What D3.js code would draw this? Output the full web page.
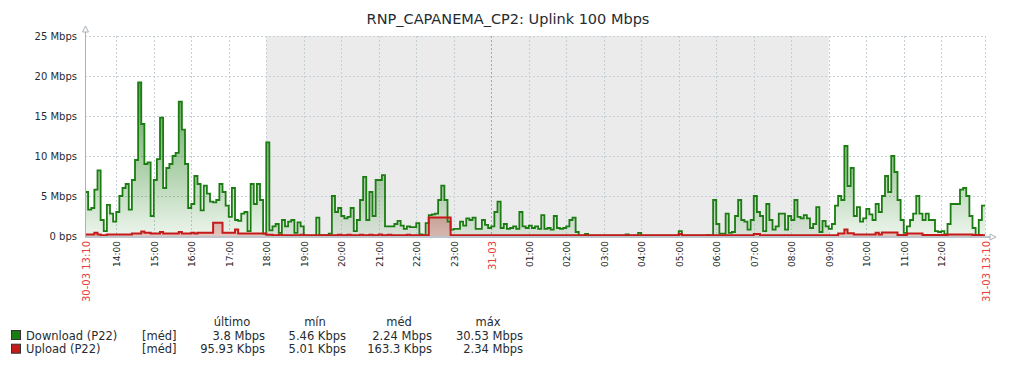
<!DOCTYPE html>
<html>
<head>
<meta charset="utf-8">
<script src="https://cdn.jsdelivr.net/npm/d3@7"></script>
<style>
  body { margin: 0; background: #fff; }
  svg { display: block; font-family: "DejaVu Sans", sans-serif; }
</style>
</head>
<body>
<svg id="graph"></svg>
<script>
// ---- data (Mbps, one value every 5 minutes, 30-03 13:10 -> 31-03 13:10)
const graphTitle = "RNP_CAPANEMA_CP2: Uplink 100 Mbps";
const startTime = new Date(Date.UTC(2024, 2, 30, 13, 10));
const endTime = new Date(Date.UTC(2024, 2, 31, 13, 10));
const stepMinutes = 5;
const offHoursStart = new Date(Date.UTC(2024, 2, 30, 18, 0));
const offHoursEnd = new Date(Date.UTC(2024, 2, 31, 9, 0));
const yTicks = [0, 5, 10, 15, 20, 25];

const download = [
  5.5, 3.3, 3.5, 5.8, 8.2, 2.0, 0.6, 3.9, 2.8, 1.8, 3.0, 5.0,
  6.0, 6.5, 3.3, 7.0, 9.5, 19.2, 14.0, 9.0, 9.2, 2.5, 7.0, 9.6,
  14.8, 6.0, 8.5, 9.0, 10.0, 10.4, 16.8, 13.3, 9.0, 3.5, 4.0, 7.5,
  6.5, 3.2, 6.3, 5.3, 4.3, 4.2, 4.5, 6.5, 5.5, 3.8, 2.4, 6.0,
  2.0, 1.9, 2.8, 3.0, 0.6, 6.5, 4.0, 6.5, 4.5, 0.3, 11.7, 0.7,
  1.2, 1.5, 0.4, 2.0, 1.2, 1.8, 2.0, 0.4, 1.7, 1.2, 0.05, 0.05,
  0.05, 0.05, 2.3, 0.1, 0.1, 0.1, 0.3, 5.0, 3.0, 3.5, 2.5, 2.2,
  2.4, 3.5, 0.6, 2.0, 4.5, 7.4, 2.0, 5.5, 2.5, 7.0, 7.0, 7.6,
  1.2, 1.2, 1.2, 1.5, 1.9, 1.3, 0.9, 1.2, 1.1, 1.1, 1.6, 0.2,
  0.1, 1.6, 2.6, 2.7, 2.8, 4.5, 6.3, 4.5, 1.8, 0.8, 0.9, 0.9,
  1.8, 1.3, 2.2, 2.0, 2.3, 0.9, 0.9, 2.0, 1.4, 1.0, 1.2, 3.0,
  4.3, 1.0, 1.5, 0.9, 1.0, 1.2, 0.9, 3.0, 1.2, 1.0, 1.3, 1.0,
  1.2, 0.9, 2.6, 0.9, 1.0, 0.8, 2.5, 1.0, 0.9, 1.0, 1.2, 2.0,
  2.3, 0.5, 0.05, 0.05, 0.25, 0.05, 0.05, 0.05, 0.05, 0.05, 0.05, 0.05,
  0.05, 0.05, 0.05, 0.05, 0.05, 0.2, 0.05, 0.05, 0.05, 0.4, 0.05, 0.05,
  0.05, 0.05, 0.05, 0.05, 0.05, 0.05, 0.05, 0.05, 0.05, 0.05, 0.6, 0.05,
  0.05, 0.05, 0.05, 0.05, 0.05, 0.05, 0.05, 0.1, 0.05, 4.5, 1.5, 0.3,
  0.3, 2.8, 0.4, 0.5, 2.5, 4.5, 2.0, 1.8, 0.8, 2.0, 5.0, 3.0,
  2.5, 0.6, 4.0, 2.0, 0.8, 1.2, 2.8, 2.8, 0.8, 2.5, 2.0, 4.5,
  2.4, 2.2, 2.6, 2.2, 1.0, 1.5, 3.6, 0.5, 1.9, 1.2, 0.9, 1.5,
  3.8, 5.0, 4.5, 11.25, 6.25, 8.5, 2.5, 3.6, 1.8, 2.2, 3.4, 2.7,
  2.0, 4.0, 3.0, 5.0, 7.5, 5.5, 10.0, 8.0, 4.5, 2.0, 0.4, 1.2,
  2.0, 2.8, 5.0, 2.8, 2.0, 2.8, 2.0, 2.0, 0.6, 0.5, 0.6, 0.2,
  1.5, 4.0, 4.0, 4.0, 5.8, 6.0, 5.0, 2.5, 1.0, 0.1, 2.0, 3.8
];

const upload = [
  0.2, 0.2, 0.2, 0.4, 0.2, 0.1, 0.1, 0.2, 0.2, 0.2, 0.2, 0.2,
  0.2, 0.2, 0.2, 0.3, 0.3, 0.3, 0.55, 0.4, 0.4, 0.3, 0.3, 0.3,
  0.5, 0.3, 0.3, 0.3, 0.3, 0.3, 0.5, 0.3, 0.3, 0.3, 0.4, 0.3,
  0.4, 0.4, 0.4, 0.4, 0.4, 1.65, 1.65, 1.65, 0.4, 0.4, 0.4, 0.4,
  0.8, 0.3, 0.3, 0.3, 0.3, 0.3, 0.3, 0.3, 0.3, 0.3, 0.15, 0.15,
  0.1, 0.1, 0.15, 0.1, 0.1, 0.1, 0.1, 0.1, 0.1, 0.15, 0.1, 0.1,
  0.1, 0.1, 0.1, 0.1, 0.1, 0.1, 0.1, 0.1, 0.1, 0.15, 0.1, 0.1,
  0.15, 0.1, 0.1, 0.1, 0.15, 0.1, 0.1, 0.15, 0.1, 0.1, 0.2, 0.1,
  0.1, 0.15, 0.1, 0.1, 0.1, 0.1, 0.1, 0.15, 0.1, 0.1, 0.1, 0.1,
  0.1, 0.1, 2.3, 2.3, 2.3, 2.3, 2.3, 2.3, 2.3, 0.1, 0.1, 0.1,
  0.1, 0.1, 0.1, 0.1, 0.1, 0.1, 0.1, 0.1, 0.1, 0.1, 0.1, 0.1,
  0.1, 0.1, 0.1, 0.1, 0.1, 0.1, 0.1, 0.1, 0.1, 0.1, 0.1, 0.1,
  0.1, 0.1, 0.1, 0.1, 0.1, 0.1, 0.1, 0.1, 0.1, 0.1, 0.1, 0.1,
  0.1, 0.1, 0.1, 0.1, 0.1, 0.1, 0.1, 0.1, 0.1, 0.1, 0.1, 0.1,
  0.1, 0.1, 0.1, 0.1, 0.1, 0.1, 0.1, 0.1, 0.1, 0.1, 0.1, 0.1,
  0.1, 0.1, 0.1, 0.1, 0.1, 0.1, 0.1, 0.1, 0.1, 0.1, 0.25, 0.1,
  0.1, 0.1, 0.1, 0.1, 0.1, 0.1, 0.1, 0.1, 0.1, 0.1, 0.1, 0.1,
  0.1, 0.1, 0.1, 0.1, 0.1, 0.1, 0.1, 0.1, 0.1, 0.1, 0.25, 0.25,
  0.1, 0.1, 0.1, 0.1, 0.1, 0.1, 0.1, 0.1, 0.1, 0.1, 0.1, 0.1,
  0.1, 0.1, 0.1, 0.1, 0.1, 0.1, 0.1, 0.1, 0.1, 0.1, 0.1, 0.1,
  0.1, 0.3, 0.3, 0.8, 0.35, 0.35, 0.2, 0.2, 0.2, 0.2, 0.2, 0.2,
  0.2, 0.4, 0.2, 0.45, 0.45, 0.45, 0.45, 0.45, 0.12, 0.12, 0.12, 0.3,
  0.3, 0.3, 0.3, 0.3, 0.12, 0.12, 0.12, 0.12, 0.12, 0.12, 0.12, 0.12,
  0.2, 0.2, 0.2, 0.2, 0.2, 0.2, 0.2, 0.2, 0.12, 0.12, 0.12, 0.1
];

const seriesNames = ["Download (P22)", "Upload (P22)"];
const seriesColors = ["#1a7c11", "#c41a1a"];
const seriesFunc = ["[méd]", "[méd]"];
const statHeaders = ["último", "mín", "méd", "máx"];
const downloadStats = ["3.8 Mbps", "5.46 Kbps", "2.24 Mbps", "30.53 Mbps"];
const uploadStats = ["95.93 Kbps", "5.01 Kbps", "163.3 Kbps", "2.34 Mbps"];

class TrafficGraph {

  constructor(_config) {
    this.config = {
      parentElement: _config.parentElement,
      containerWidth: _config.containerWidth || 1016,
      containerHeight: _config.containerHeight || 368,
      margin: { top: 36, left: 85, right: 31, bottom: 132 }
    }
    this.initVis();
  }

  initVis() {
    let vis = this;

    vis.width = vis.config.containerWidth - vis.config.margin.left - vis.config.margin.right;
    vis.height = vis.config.containerHeight - vis.config.margin.top - vis.config.margin.bottom;

    vis.svg = d3.select(vis.config.parentElement)
        .attr('width', vis.config.containerWidth)
        .attr('height', vis.config.containerHeight);

    vis.svg.append('text')
        .attr('x', 508)
        .attr('y', 24)
        .attr('text-anchor', 'middle')
        .attr('font-size', 14.5)
        .attr('fill', '#1f2c33')
        .text(graphTitle);

    vis.xScale = d3.scaleUtc()
        .domain([startTime, endTime])
        .range([0, vis.width]);

    vis.yScale = d3.scaleLinear()
        .domain([0, d3.max(yTicks)])
        .range([vis.height, 0]);

    vis.chart = vis.svg.append('g')
        .attr('transform', `translate(${vis.config.margin.left},${vis.config.margin.top})`);

    // gradients for the filled areas
    let defs = vis.svg.append('defs');
    [['gradDown', seriesColors[0], 0.9, 0.08], ['gradUp', seriesColors[1], 0.9, 0.22]].forEach(g => {
      let lg = defs.append('linearGradient')
          .attr('id', g[0])
          .attr('gradientUnits', 'userSpaceOnUse')
          .attr('x1', 0).attr('x2', 0)
          .attr('y1', 0).attr('y2', vis.height);
      lg.append('stop').attr('offset', 0).attr('stop-color', g[1]).attr('stop-opacity', g[2]);
      lg.append('stop').attr('offset', 1).attr('stop-color', g[1]).attr('stop-opacity', g[3]);
    });
    defs.append('clipPath').attr('id', 'plotClip')
      .append('rect')
        .attr('x', 0).attr('y', -2)
        .attr('width', vis.width).attr('height', vis.height + 2);

    vis.updateVis();
  }

  updateVis() {
    let vis = this;
    const toPoints = arr => {
      let pts = arr.map((v, i) => ({ t: d3.utcMinute.offset(startTime, i * stepMinutes), v: v }));
      pts.push({ t: endTime, v: arr[arr.length - 1] });
      return pts;
    };
    vis.downPoints = toPoints(download);
    vis.upPoints = toPoints(upload);

    vis.hours = d3.utcHour.range(d3.utcHour.ceil(startTime), endTime)
        .filter(h => vis.xScale(h) < vis.width - 20);

    vis.renderVis();
  }

  renderVis() {
    let vis = this;
    const x = vis.xScale, y = vis.yScale;

    // off-hours shading
    vis.chart.append('rect')
        .attr('x', x(offHoursStart))
        .attr('y', 0)
        .attr('width', x(offHoursEnd) - x(offHoursStart))
        .attr('height', vis.height)
        .attr('fill', '#ebebeb');

    // grid
    vis.chart.append('g').selectAll('line.h')
      .data(yTicks.filter(d => d > 0))
      .join('line')
        .attr('x1', 0).attr('x2', vis.width)
        .attr('y1', d => y(d) + 0.5).attr('y2', d => y(d) + 0.5)
        .attr('stroke', '#c5cfd6')
        .attr('stroke-dasharray', '2,2');

    vis.chart.append('g').selectAll('line.v')
      .data(vis.hours.concat([endTime]))
      .join('line')
        .attr('x1', d => Math.round(x(d)) + 0.5).attr('x2', d => Math.round(x(d)) + 0.5)
        .attr('y1', 0).attr('y2', vis.height)
        .attr('stroke', d => d.getUTCHours() === 0 ? '#a3a8ac' : '#c5cfd6')
        .attr('stroke-dasharray', '2,2');

    // areas and lines
    const area = d3.area()
        .x(d => x(d.t))
        .y0(y(0))
        .y1(d => y(d.v))
        .curve(d3.curveStepAfter);
    const line = d3.line()
        .x(d => x(d.t))
        .y(d => y(d.v))
        .curve(d3.curveStepAfter);

    let plot = vis.chart.append('g').attr('clip-path', 'url(#plotClip)');
    plot.append('path').datum(vis.downPoints)
        .attr('d', area).attr('fill', 'url(#gradDown)');
    plot.append('path').datum(vis.upPoints)
        .attr('d', area).attr('fill', 'url(#gradUp)');
    plot.append('path').datum(vis.downPoints)
        .attr('d', line).attr('fill', 'none')
        .attr('stroke', seriesColors[0]).attr('stroke-width', 1.8);
    plot.append('path').datum(vis.upPoints)
        .attr('d', line).attr('fill', 'none')
        .attr('stroke', seriesColors[1]).attr('stroke-width', 2);

    // axes
    const axisColor = '#a9b2b9';
    vis.chart.append('line')
        .attr('x1', 0.5).attr('x2', 0.5).attr('y1', -8).attr('y2', vis.height + 1)
        .attr('stroke', axisColor);
    vis.chart.append('line')
        .attr('x1', 0).attr('x2', vis.width + 5).attr('y1', vis.height + 1).attr('y2', vis.height + 1)
        .attr('stroke', axisColor).attr('stroke-width', 1.5);
    vis.chart.append('path')
        .attr('d', `M-2.5,-4 L3.5,-4 L0.5,-10 Z`)
        .attr('fill', '#fff').attr('stroke', axisColor);
    vis.chart.append('path')
        .attr('d', `M${vis.width + 5},${vis.height - 2} L${vis.width + 5},${vis.height + 4} L${vis.width + 11},${vis.height + 1} Z`)
        .attr('fill', '#fff').attr('stroke', axisColor);

    // y labels
    vis.chart.append('g').selectAll('text')
      .data(yTicks)
      .join('text')
        .attr('x', -8)
        .attr('y', d => y(d))
        .attr('dy', '0.35em')
        .attr('text-anchor', 'end')
        .attr('font-size', 10)
        .attr('fill', '#1f2c33')
        .text(d => d === 0 ? '0 bps' : `${d} Mbps`);

    // x labels, rotated
    const hourFmt = d3.utcFormat('%H:%M');
    const dayFmt = d3.utcFormat('%d-%m');
    const fullFmt = d3.utcFormat('%d-%m %H:%M');
    let labels = vis.hours.map(h => ({
      t: h,
      text: h.getUTCHours() === 0 ? dayFmt(h) : hourFmt(h),
      red: h.getUTCHours() === 0
    }));
    labels.push({ t: startTime, text: fullFmt(startTime), red: true });
    labels.push({ t: endTime, text: fullFmt(endTime), red: true });

    vis.chart.append('g').selectAll('text')
      .data(labels)
      .join('text')
        .attr('transform', d => `translate(${x(d.t) + 1},${vis.height + 5}) rotate(-90)`)
        .attr('dy', '0.35em')
        .attr('text-anchor', 'end')
        .attr('font-size', d => d.red ? 10 : 9)
        .attr('fill', d => d.red ? '#e8403f' : '#222')
        .text(d => d.text);

    // legend
    let legend = vis.svg.append('g').attr('font-size', 11.5).attr('fill', '#1f2c33');
    const statRight = [265, 346, 432, 523];
    const headerMid = [232, 315, 399, 488];
    legend.selectAll('text.hdr')
      .data(statHeaders)
      .join('text')
        .attr('x', (d, i) => headerMid[i])
        .attr('y', 322)
        .attr('dy', '0.35em')
        .attr('text-anchor', 'middle')
        .text(d => d);

    const rows = [downloadStats, uploadStats];
    rows.forEach((stats, r) => {
      let cy = 335.5 + r * 13.7;
      legend.append('rect')
          .attr('x', 11.5).attr('y', cy - 5)
          .attr('width', 9).attr('height', 9)
          .attr('fill', seriesColors[r])
          .attr('stroke', '#333');
      legend.append('text')
          .attr('x', 26).attr('y', cy).attr('dy', '0.35em')
          .text(seriesNames[r]);
      legend.append('text')
          .attr('x', 142).attr('y', cy).attr('dy', '0.35em')
          .text(seriesFunc[r]);
      legend.selectAll(null)
        .data(stats)
        .join('text')
          .attr('x', (d, i) => statRight[i])
          .attr('y', cy)
          .attr('dy', '0.35em')
          .attr('text-anchor', 'end')
          .text(d => d);
    });
  }
}

let graph = new TrafficGraph({ parentElement: '#graph' });
</script>
</body>
</html>
